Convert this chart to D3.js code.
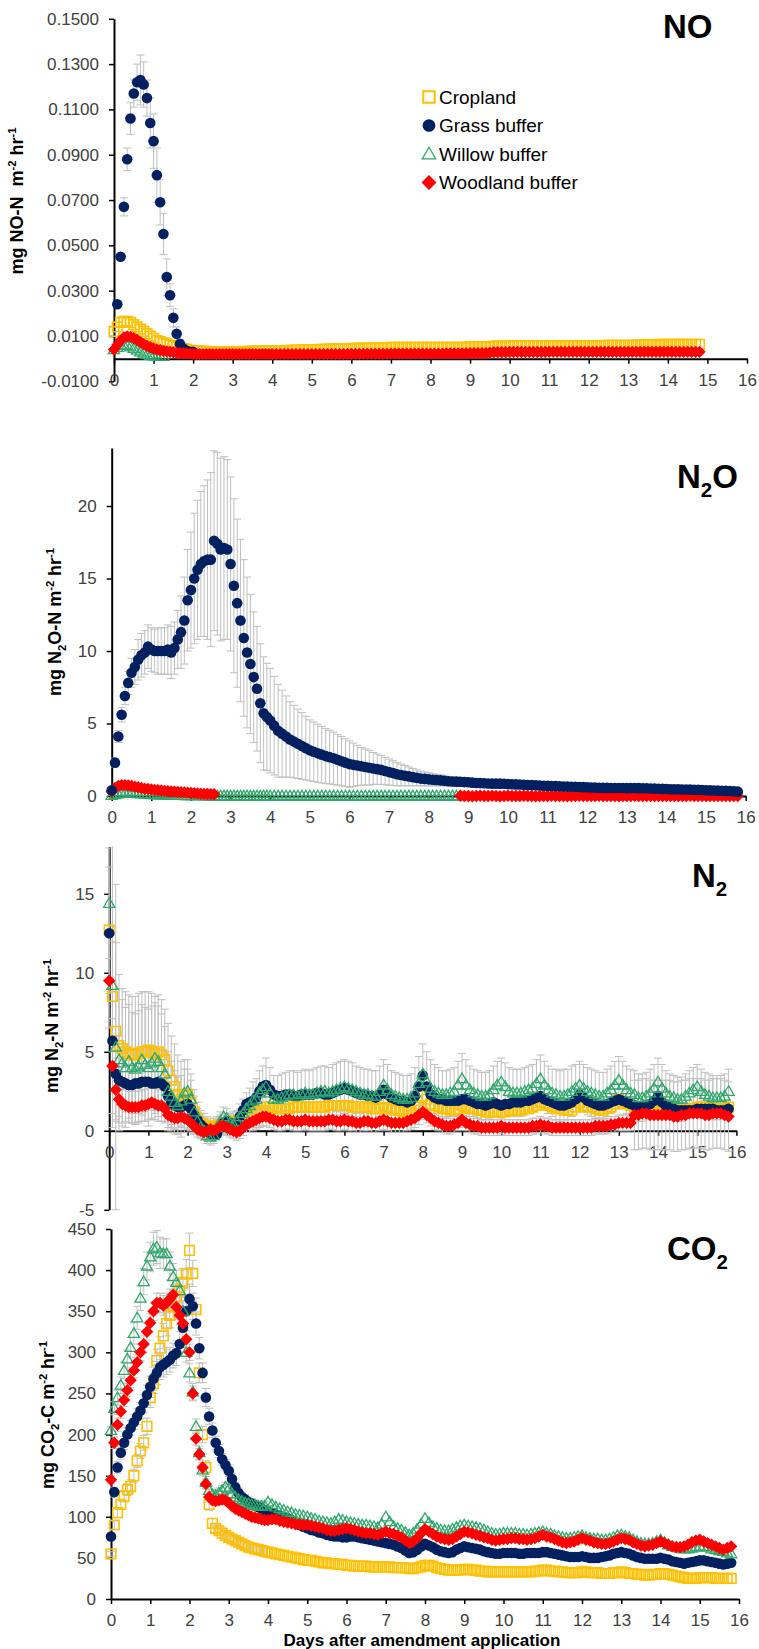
<!DOCTYPE html>
<html><head><meta charset="utf-8">
<script src="https://cdn.jsdelivr.net/npm/d3@7"></script>
<style>
body{margin:0;background:#fff}
svg{display:block}
text{font-family:"Liberation Sans",Arial,Helvetica,sans-serif;white-space:pre}
</style></head>
<body><svg id="c" width="759" height="1649"></svg>
<script>
// ---------- sampling times ----------
const hoursEarly = [0,2,4,6,8,10,12,14,16,18,20,22,24,26,28,30,32,34,36,38,40,42,44,46,48,50,52,54,56,58,60,62,64,66,68,70,72,74,76,78,80,82,84,86,88,90,92,94];
const daysLate = [4,4.1,4.2,4.3,4.4,4.5,4.6,4.7,4.8,4.9,5,5.1,5.2,5.3,5.4,5.5,5.6,5.7,5.8,5.9,6,6.1,6.2,6.3,6.4,6.5,6.6,6.7,6.8,6.9,7,7.1,7.2,7.3,7.4,7.5,7.6,7.7,7.8,7.9,8,8.1,8.2,8.3,8.4,8.5,8.6,8.7,8.8,8.9,9,9.1,9.2,9.3,9.4,9.5,9.6,9.7,9.8,9.9,10,10.1,10.2,10.3,10.4,10.5,10.6,10.7,10.8,10.9,11,11.1,11.2,11.3,11.4,11.5,11.6,11.7,11.8,11.9,12,12.1,12.2,12.3,12.4,12.5,12.6,12.7,12.8,12.9,13,13.1,13.2,13.3,13.4,13.5,13.6,13.7,13.8,13.9,14,14.1,14.2,14.3,14.4,14.5,14.6,14.7,14.8,14.9,15,15.1,15.2,15.3,15.4,15.5,15.6,15.7,15.8];
const xTicks = [0,1,2,3,4,5,6,7,8,9,10,11,12,13,14,15,16];
const seriesNames = ["Cropland","Grass buffer","Willow buffer","Woodland buffer"];

// ---------- NO ----------
const noTicks = [-0.01,0.01,0.03,0.05,0.07,0.09,0.11,0.13,0.15];
const noCropE = [0.012,0.014,0.016,0.0165,0.0165,0.016,0.015,0.014,0.013,0.012,0.011,0.010,0.009,0.008,0.0075,0.007,0.0065,0.006,0.0055,0.005,0.0047,0.0044,0.0041,0.0038,0.0036,0.0035,0.0034,0.0033,0.0032,0.0031,0.003,0.003,0.003,0.003,0.003,0.003,0.003,0.003,0.0031,0.0031,0.0032,0.0032,0.0033,0.0033,0.0034,0.0034,0.0035,0.0035];
const noCropL = [0.0035,0.0035,0.0036,0.0036,0.0037,0.0037,0.0038,0.0038,0.0039,0.0039,
 0.004,0.004,0.0041,0.0041,0.0042,0.0042,0.0043,0.0043,0.0044,0.0044,
 0.0045,0.0045,0.0046,0.0046,0.0047,0.0047,0.0048,0.0048,0.0049,0.0049,
 0.005,0.005,0.005,0.005,0.005,0.005,0.005,0.005,0.005,0.005,
 0.005,0.005,0.005,0.005,0.005,0.005,0.005,0.005,0.005,0.005,
 0.0052,0.0052,0.0052,0.0052,0.0053,0.0053,0.0055,0.0055,0.0055,0.0055,
 0.0056,0.0056,0.0056,0.0056,0.0056,0.0056,0.0057,0.0057,0.0057,0.0057,
 0.0057,0.0057,0.0057,0.0057,0.0058,0.0058,0.0058,0.0058,0.0058,0.0058,
 0.0058,0.0058,0.0058,0.0058,0.0059,0.0059,0.0059,0.0059,0.0059,0.0059,
 0.0059,0.0059,0.006,0.006,0.0062,0.0062,0.0062,0.0062,0.0063,0.0063,
 0.0063,0.0063,0.0063,0.0063,0.0063,0.0063,0.0063,0.0063,0.0063];
const noGrassE = [null,0.024,0.045,0.067,0.088,0.106,0.117,0.122,0.123,0.121,0.115,0.104,0.096,0.081,0.069,0.055,0.036,0.028,0.018,0.011,0.0065,0.0045,0.0035,0.003,0.003];
const noGrassErr = [null,0.001,0.001,0.004,0.005,0.007,0.006,0.008,0.011,0.010,0.008,0.011,0.012,0.012,0.010,0.009,0.008,0.005,0.004,0.003,0.002,0.001,0.001,0.001,0.001];
const noWillE = [0.004,0.005,0.006,0.006,0.0058,0.0052,0.0045,0.0038,0.003,0.0024,0.0018,0.0014,0.0012,0.001,0.001,0.001];
const noWoodE = [0.004,0.006,0.008,0.0093,0.0098,0.0096,0.009,0.0082,0.0073,0.0064,0.0056,0.005,0.0045,0.004,0.0037,0.0034,0.0032,0.003,0.0028,0.0026,0.0025,0.0024,0.0023,0.0022,0.0021,0.002,0.002,0.002,0.002,0.002,0.002,0.002,0.002,0.002,0.002,0.002,0.002,0.002,0.002,0.002,0.002,0.002,0.002,0.002,0.002,0.002,0.002,0.002];
const noWoodL = [0.002,0.002,0.002,0.002,0.002,0.002,0.002,0.002,0.002,0.002,
 0.002,0.002,0.002,0.002,0.002,0.002,0.002,0.002,0.002,0.002,
 0.0021,0.0021,0.0021,0.0021,0.0021,0.0021,0.0021,0.0021,0.0021,0.0021,
 0.0022,0.0022,0.0022,0.0022,0.0022,0.0022,0.0022,0.0022,0.0022,0.0022,
 0.0022,0.0022,0.0022,0.0022,0.0023,0.0023,0.0023,0.0023,0.0023,0.0023,
 0.0024,0.0024,0.0024,0.0024,0.0024,0.0026,0.0028,0.0028,0.0028,0.0028,
 0.0029,0.0029,0.0029,0.0029,0.0029,0.0029,0.0029,0.0029,0.0029,0.0029,
 0.003,0.003,0.003,0.003,0.003,0.003,0.003,0.003,0.003,0.003,
 0.003,0.003,0.003,0.003,0.003,0.003,0.003,0.003,0.003,0.003,
 0.003,0.003,0.003,0.003,0.003,0.003,0.003,0.003,0.003,0.003,
 0.003,0.003,0.003,0.003,0.003,0.003,0.003,0.003,0.003];

// ---------- N2O ----------
const n2oTicks = [0,5,10,15,20];
const n2oGrassE = [0.4,2.3,4.1,5.6,6.9,7.8,8.5,8.9,9.4,9.7,9.9,10.3,10.1,10.0,10.0,10.0,10.0,10.1,9.9,10.2,10.8,11.3,12.1,13.5,14.2,15.0,15.6,16.0,16.2,16.3,16.3,17.6,17.4,17.0,17.1,17.0,16.0,14.5,13.3,12.1,10.9,9.9,9.1,8.2,7.4,6.4,5.7,5.45];
const n2oGrassL = [5.2,4.85,4.5,4.3,4.1,3.9,3.75,3.6,3.45,3.3,
 3.15,3.05,2.95,2.85,2.75,2.68,2.6,2.5,2.4,2.3,
 2.2,2.15,2.1,2.05,2.0,1.95,1.9,1.85,1.8,1.72,
 1.65,1.58,1.5,1.45,1.4,1.35,1.3,1.25,1.2,1.18,
 1.15,1.12,1.1,1.08,1.05,1.02,1.0,0.99,0.98,0.96,
 0.95,0.92,0.9,0.89,0.88,0.86,0.85,0.85,0.85,0.84,
 0.82,0.81,0.8,0.79,0.78,0.76,0.75,0.74,0.72,0.71,
 0.7,0.69,0.68,0.67,0.66,0.65,0.64,0.63,0.62,0.61,
 0.6,0.59,0.58,0.57,0.56,0.56,0.55,0.55,0.55,0.55,
 0.54,0.55,0.55,0.54,0.53,0.53,0.52,0.51,0.5,0.49,
 0.48,0.47,0.46,0.46,0.45,0.45,0.44,0.43,0.42,0.41,
 0.4,0.39,0.38,0.37,0.36,0.35,0.34,0.32,0.3];
const n2oGrassErrE = [0.1,0.3,0.4,0.5,0.6,0.8,1.0,1.2,1.4,1.5,1.5,1.5,1.5,1.5,1.6,1.6,1.6,1.7,1.8,1.8,2.0,2.5,3.0,3.5,4.0,4.5,4.8,5.0,5.2,5.5,6.0,6.2,6.3,6.3,6.3,6.2,6.0,6.0,5.8,5.6,5.4,5.2,4.8,4.5,4.3,4.1,3.9,3.7];
const n2oGrassErrL = [3.6,3.4,3.2,3.0,2.8,2.6,2.5,2.4,2.3,2.2,
 2.1,2.05,2.0,1.95,1.9,1.85,1.8,1.75,1.7,1.65,
 1.6,1.5,1.4,1.3,1.25,1.2,1.1,1.05,1.0,0.95,
 0.9,0.85,0.8,0.75,0.7,0.65,0.6,0.55,0.5,0.48,
 0.45,0.42,0.4,0.38,0.35,0.32,0.3,0.3,0.3,0.29,
 0.28,0.27,0.26,0.26,0.25,0.25,0.24,0.23,0.22,0.21,
 0.2,0.2,0.2,0.2,0.2,0.2,0.2,0.2,0.2,0.2,
 0.2,0.19,0.18,0.18,0.18,0.17,0.17,0.16,0.16,0.15,
 0.15,0.15,0.15,0.15,0.15,0.15,0.15,0.15,0.15,0.15,
 0.14,0.14,0.14,0.14,0.13,0.13,0.13,0.13,0.12,0.12,
 0.12,0.12,0.12,0.12,0.11,0.11,0.11,0.11,0.1,0.1,
 0.1,0.1,0.1,0.1,0.1,0.1,0.1,0.1,0.1];
const n2oWillE = [0.05,0.1,0.15,0.2,0.2,0.2,0.2,0.18,0.16,0.15,0.14,0.12,0.1,0.1,0.08,0.08,0.06,0.06,0.05,0.05,0.04,0.04,0.03,0.03,0.02,0.02,0.02,0.02,0.01,0.01,0,0,0,0,0,0,0,0,0,0,0,0,0,0,0,0,0,0];
const n2oWillL = [0,0,0,0,0,0,0,0,0,0, 0,0,0,0,0,0,0,0,0,0, 0,0,0,0,0,0,0,0,0,0, 0,0,0,0,0,0,0,0,0,0, 0,0,0,0,0,0,0,0];
const n2oWoodE = [0.3,0.55,0.7,0.75,0.75,0.72,0.7,0.65,0.6,0.55,0.5,0.48,0.45,0.42,0.4,0.38,0.35,0.33,0.31,0.3,0.28,0.26,0.25,0.23,0.21,0.2,0.18,0.16,0.15,0.14,0.13,0.12,null,null,null,null,null,null,null,null,null,null,null,null,null,null,null,null];
const n2oWoodL = [null,null,null,null,null,null,null,null,null,null,
 null,null,null,null,null,null,null,null,null,null,
 null,null,null,null,null,null,null,null,null,null,
 null,null,null,null,null,null,null,null,null,null,
 null,null,null,null,null,null,null,null,0.02,0,
 0,-0.02,0,0.02,0,0,0.02,0,-0.02,0,
 0.02,0,0,0,0.02,0,0,-0.02,0,0,
 0,0.02,0,0,0,-0.02,0,0,0.02,0,
 0,0,0,0.02,0,0,0,0,-0.02,0,
 0,0,0.02,0,0,0,0,0,0,0,
 0,0,0,0,0,0,0.02,0,0,0,
 0,0,0,0,0,0,0,0,0];

// ---------- N2 ----------
const n2Ticks = [-5,0,5,10,15];
const n2CropE = [12.7,8.5,6.3,5.4,5.2,5.0,4.9,4.8,4.8,4.9,5.0,5.0,5.1,5.0,4.9,5.0,4.8,4.5,3.8,3.2,2.8,2.3,2.0,2.2,2.3,1.8,1.2,0.8,0.5,0.4,0.3,0.2,0.2,0.3,0.4,0.4,0.5,0.5,0.6,0.6,0.7,0.8,0.9,1.0,1.1,1.2,1.2,1.3];
const n2CropL = [1.5,1.5,1.5,1.4,1.4,1.4,1.4,1.5,1.5,1.5,
 1.5,1.5,1.5,1.5,1.5,1.5,1.6,1.6,1.6,1.6,
 1.6,1.6,1.5,1.5,1.5,1.5,1.5,1.4,1.4,1.4,
 1.5,1.4,1.4,1.3,1.3,1.2,1.2,1.2,1.3,1.5,
 2.2,2.0,1.7,1.6,1.5,1.4,1.4,1.3,1.3,1.4,
 1.6,1.5,1.4,1.4,1.3,1.3,1.2,1.2,1.2,1.2,
 1.2,1.2,1.3,1.3,1.3,1.3,1.4,1.4,1.5,1.6,
 1.8,1.7,1.6,1.5,1.4,1.4,1.3,1.3,1.3,1.5,
 1.8,1.6,1.5,1.5,1.4,1.3,1.3,1.4,1.5,1.7,
 2.0,1.8,1.7,1.6,1.5,1.5,1.5,1.5,1.6,1.7,
 1.8,1.7,1.6,1.5,1.5,1.4,1.4,1.4,1.4,1.4,
 1.5,1.5,1.5,1.5,1.4,1.4,1.4,1.4,1.5];
const n2CropErrE = [4.0,3.5,5.6,4.5,3.8,3.8,3.7,3.7,3.7,3.8,3.8,3.8,3.7,3.7,3.6,3.6,3.5,3.2,3.0,2.8,2.7,2.5,2.4,2.3,2.2,1.8,1.4,1.0,0.8,0.7,0.6,0.6,0.6,0.6,0.6,0.6,0.6,0.6,0.6,0.6,0.7,0.7,0.8,0.8,0.9,0.9,1.0,1.0];
const n2GrassE = [12.5,5.7,3.6,3.2,3.1,3.0,2.9,2.9,3.0,3.0,3.1,3.1,3.1,3.0,3.0,3.1,3.0,2.8,2.2,1.8,1.6,1.5,1.5,1.6,1.7,1.4,1.0,0.7,0.4,0.2,0.0,-0.2,-0.3,-0.2,0.2,0.5,0.6,0.5,0.4,0.5,0.9,1.3,1.7,1.8,1.9,2.1,2.5,2.8];
const n2GrassL = [2.9,2.6,2.3,2.2,2.2,2.3,2.3,2.2,2.2,2.3,
 2.3,2.3,2.3,2.4,2.4,2.3,2.3,2.4,2.5,2.6,
 2.7,2.6,2.5,2.4,2.3,2.3,2.2,2.2,2.1,2.3,
 2.6,2.3,2.1,2.0,1.9,1.9,1.8,1.9,2.2,2.8,
 3.5,2.8,2.3,2.1,2.0,2.0,1.9,1.9,1.9,1.9,
 2.0,2.0,1.9,1.8,1.7,1.7,1.6,1.7,1.8,1.7,
 1.6,1.7,1.7,1.8,1.8,1.8,1.9,1.9,2.0,2.1,
 2.2,2.0,1.9,1.8,1.7,1.6,1.6,1.7,1.8,2.0,
 2.3,2.1,1.9,1.8,1.7,1.6,1.6,1.7,1.8,1.9,
 2.0,1.9,1.8,1.7,1.6,1.5,1.5,1.6,1.7,1.9,
 2.2,1.8,1.6,1.5,1.4,1.3,1.3,1.3,1.3,1.3,
 1.4,1.4,1.4,1.4,1.4,1.3,1.3,1.3,1.4];
const n2WillE = [14.4,9.2,5.3,4.5,4.3,4.0,4.4,4.0,3.9,4.1,4.5,4.2,4.0,4.3,4.6,4.4,4.0,3.6,2.5,2.2,1.8,1.6,1.9,2.4,2.5,2.0,1.2,0.6,0.2,0.0,-0.3,-0.4,-0.3,0.2,0.6,0.9,0.8,0.5,0.4,0.6,0.9,1.1,1.4,1.6,1.9,2.0,2.4,2.6];
const n2WillL = [2.8,2.4,2.0,2.0,2.1,2.2,2.3,2.3,2.2,2.3,
 2.4,2.3,2.3,2.4,2.5,2.5,2.4,2.5,2.6,2.7,
 2.8,2.7,2.6,2.5,2.4,2.3,2.3,2.2,2.2,2.5,
 2.9,2.6,2.3,2.2,2.1,2.0,2.0,2.1,2.4,3.0,
 3.6,3.1,2.7,2.5,2.4,2.3,2.3,2.4,2.5,2.9,
 3.3,2.9,2.6,2.4,2.3,2.2,2.2,2.3,2.6,2.9,
 3.1,2.8,2.5,2.4,2.4,2.4,2.5,2.6,2.7,3.0,
 3.3,2.9,2.6,2.4,2.3,2.2,2.2,2.3,2.5,2.7,
 2.9,2.7,2.5,2.4,2.3,2.2,2.2,2.4,2.6,2.9,
 3.2,2.9,2.6,2.4,2.3,2.1,2.1,2.2,2.4,2.7,
 3.1,2.7,2.4,2.2,2.1,2.0,2.0,2.2,2.4,2.6,
 2.8,2.5,2.3,2.2,2.1,2.1,2.1,2.2,2.5];
const n2WillErrE = [3.5,9.0,10.3,4.5,4.0,3.8,3.6,3.5,3.5,3.5,3.5,3.6,3.7,3.6,3.5,3.5,3.4,3.0,2.5,2.2,2.0,1.8,1.6,1.5,1.4,1.2,1.0,0.8,0.6,0.5,0.5,0.5,0.5,0.5,0.6,0.6,0.6,0.6,0.6,0.7,0.8,0.9,1.0,1.1,1.2,1.3,1.4,1.5];
const n2WillErrL = [1.8,1.6,1.5,1.5,1.5,1.5,1.5,1.5,1.5,1.5,
 1.5,1.5,1.6,1.6,1.6,1.6,1.6,1.7,1.7,1.7,
 1.7,1.7,1.7,1.6,1.6,1.6,1.6,1.6,1.6,1.6,
 1.6,1.6,1.5,1.5,1.5,1.5,1.5,1.5,1.6,1.7,
 1.9,1.9,1.8,1.7,1.6,1.5,1.5,1.5,1.5,1.5,
 1.6,1.6,1.5,1.5,1.5,1.5,1.5,1.5,1.5,1.5,
 1.5,1.5,1.5,1.5,1.5,1.5,1.5,1.5,1.5,1.5,
 1.5,1.5,1.5,1.5,1.6,1.6,1.7,1.6,1.6,1.5,
 1.5,1.5,1.5,1.5,1.5,1.5,1.5,1.5,1.5,1.5,
 1.5,1.5,1.5,1.5,1.5,1.5,1.5,1.5,1.5,1.5,
 1.5,1.5,1.4,1.4,1.4,1.4,1.4,1.4,1.4,1.4,
 1.4,1.4,1.4,1.4,1.4,1.4,1.4,1.4,1.4];
const n2WoodE = [9.5,4.1,2.6,2.0,1.7,1.6,1.5,1.5,1.5,1.5,1.6,1.6,1.7,1.8,1.7,1.6,1.6,1.4,1.0,0.9,0.8,0.8,0.9,0.8,0.7,0.5,0.3,0.1,0.0,-0.1,0.0,0.1,0.0,0.1,0.3,0.3,0.2,0.1,0.0,-0.1,0.0,0.2,0.4,0.5,0.6,0.7,0.8,0.9];
const n2WoodL = [0.9,0.8,0.7,0.6,0.6,0.7,0.7,0.6,0.6,0.6,
 0.7,0.6,0.6,0.6,0.6,0.6,0.7,0.7,0.6,0.6,
 0.7,0.6,0.6,0.5,0.5,0.6,0.6,0.5,0.5,0.6,
 0.7,0.6,0.5,0.5,0.5,0.5,0.6,0.7,0.8,1.0,
 1.2,1.0,0.8,0.6,0.5,0.4,0.3,0.3,0.4,0.5,
 0.7,0.5,0.4,0.3,0.3,0.2,0.2,0.2,0.2,0.2,
 0.3,0.2,0.2,0.2,0.2,0.2,0.2,0.2,0.3,0.3,
 0.4,0.3,0.3,0.2,0.2,0.2,0.2,0.2,0.2,0.2,
 0.2,0.2,0.2,0.2,0.3,0.3,0.3,0.3,0.4,0.4,
 0.5,0.5,0.5,0.5,1.0,1.0,1.1,1.1,1.0,1.0,
 1.0,1.0,1.0,1.0,0.9,0.9,1.0,1.0,1.1,1.1,
 1.1,1.1,1.0,1.0,1.1,1.1,1.1,1.0,0.9];
const n2WoodErrE = [3.0,3.0,2.0,1.5,1.2,1.0,1.0,1.0,1.0,1.0,1.0,1.0,1.0,1.0,1.0,1.0,1.0,0.9,0.8,0.7,0.7,0.6,0.6,0.6,0.6,0.5,0.5,0.5,0.5,0.5,0.5,0.5,0.5,0.5,0.5,0.5,0.5,0.5,0.5,0.5,0.5,0.5,0.5,0.6,0.6,0.6,0.6,0.6];
const n2WoodErrL = [0.6,0.6,0.6,0.6,0.6,0.6,0.6,0.6,0.6,0.6,
 0.6,0.6,0.6,0.6,0.6,0.6,0.6,0.6,0.6,0.6,
 0.6,0.6,0.6,0.6,0.6,0.6,0.6,0.6,0.6,0.6,
 0.6,0.6,0.6,0.6,0.6,0.6,0.6,0.6,0.6,0.6,
 0.5,0.5,0.5,0.5,0.5,0.5,0.5,0.5,0.5,0.5,
 0.5,0.5,0.5,0.5,0.5,0.5,0.5,0.5,0.5,0.5,
 0.5,0.5,0.5,0.5,0.5,0.5,0.5,0.5,0.5,0.5,
 0.5,0.5,0.5,0.5,0.5,0.5,0.5,0.5,0.5,0.5,
 0.5,0.5,0.5,0.5,0.5,0.5,0.5,0.5,0.5,0.5,
 0.5,0.5,0.5,0.5,2.2,2.2,2.2,2.2,2.2,2.2,
 2.2,2.2,2.2,2.2,2.2,2.2,2.2,2.2,2.2,2.2,
 2.2,2.2,2.2,2.2,2.2,2.2,2.2,2.2,2.2];

// ---------- CO2 ----------
const co2Ticks = [0,50,100,150,200,250,300,350,400,450];
const co2CropE = [55,90,105,115,125,133,137,150,168,180,190,210,245,262,290,305,320,335,345,355,368,375,385,395,424,396,352,275,200,160,115,92,86,83,80,77,75,73,71,69,67,65,63,62,61,60,59,58];
const co2CropL = [57,56,55,54,53,52,51,50,49,48,
 47,47,46,45,44,44,43,43,42,42,
 41,41,40,40,40,40,39,39,39,39,
 39,39,38,38,38,38,37,37,38,39,
 41,41,40,38,37,36,35,35,35,35,
 36,36,35,35,34,34,33,33,33,33,
 33,33,33,33,33,33,33,33,34,34,
 35,35,34,34,33,33,32,32,32,32,
 33,33,32,32,32,31,31,31,32,32,
 33,32,31,31,30,30,29,29,30,30,
 31,31,30,29,28,27,26,25,25,25,
 26,26,26,26,25,25,25,25,25];
const co2CropErrE = [3,5,6,6,7,7,8,8,8,9,9,10,12,12,14,14,15,15,15,15,16,16,17,18,21,16,14,12,10,8,7,6,5,5,5,5,5,5,5,5,5,5,5,5,5,5,5,5];
const co2GrassE = [76,130,160,178,190,200,208,215,222,229,238,248,258,268,275,282,285,288,291,296,299,310,330,350,365,356,335,305,275,245,222,205,190,180,170,163,156,146,136,129,124,121,118,116,114,112,110,108];
const co2GrassL = [106,104,103,101,100,98,96,93,90,88,
 86,84,83,81,80,78,77,76,76,75,
 75,76,76,75,74,73,72,71,70,69,
 68,67,66,64,62,59,56,57,60,64,
 67,65,63,60,58,57,56,57,60,62,
 64,63,62,61,60,58,57,56,55,55,
 56,56,56,56,55,55,56,56,56,56,
 57,57,56,55,54,53,52,51,51,51,
 52,51,50,50,50,51,52,53,55,56,
 57,56,55,53,51,50,49,49,49,49,
 50,49,48,46,45,44,43,44,45,46,
 47,47,46,45,44,43,42,43,44];
const co2GrassErrE = [4,6,7,8,8,8,9,9,10,10,11,12,13,14,14,15,15,15,15,15,15,15,16,17,18,16,14,13,12,11,10,9,8,8,7,7,7,7,6,6,6,6,6,6,6,6,6,6];
const co2WillE = [205,232,245,260,278,292,306,323,342,366,386,405,416,426,428,421,420,420,405,392,385,375,350,300,275,252,210,178,157,142,132,127,126,129,132,136,134,128,124,121,119,117,116,115,114,113,113,113];
const co2WillL = [118,115,112,110,108,106,105,103,102,101,
 100,98,97,95,94,93,92,94,97,96,
 94,93,92,91,90,90,89,88,87,91,
 100,94,88,86,84,81,78,80,85,91,
 98,93,88,86,84,83,83,85,87,89,
 90,89,88,87,86,84,82,80,79,79,
 80,80,80,80,79,79,78,79,80,81,
 82,80,79,77,76,75,74,74,75,76,
 77,75,74,73,73,72,72,73,75,77,
 78,76,75,72,70,68,67,67,68,70,
 72,69,66,64,63,62,61,61,62,63,
 64,64,63,61,60,59,58,56,55];
const co2WillErrE = [5,8,9,10,10,11,12,13,14,15,16,17,18,20,20,19,18,18,17,16,15,14,13,12,11,10,9,8,7,7,6,6,6,6,6,6,6,6,6,6,6,6,6,6,6,6,6,6];
const co2WoodE = [145,190,212,228,242,254,266,278,288,300,310,325,336,350,360,360,357,360,365,370,355,345,335,316,300,250,195,176,160,140,124,120,119,120,121,120,117,113,110,108,106,104,102,100,99,98,97,96];
const co2WoodL = [96,97,97,95,94,93,92,91,91,90,
 90,89,88,87,86,84,83,83,84,85,
 86,85,84,82,81,80,80,79,78,80,
 82,80,79,77,75,71,68,70,74,80,
 85,82,79,76,74,73,72,73,76,79,
 82,81,80,78,77,75,74,72,71,72,
 73,73,74,74,73,73,72,73,74,76,
 78,76,75,73,71,69,68,69,70,72,
 74,72,71,69,68,67,67,68,70,72,
 74,73,72,69,67,65,64,65,66,68,
 70,68,66,64,63,63,64,66,69,71,
 72,70,68,66,64,62,60,62,64];
const co2WoodErrE = [5,7,8,8,8,8,9,9,9,10,10,10,11,11,12,12,12,12,12,12,11,11,10,10,10,9,8,7,6,6,6,5,5,5,5,5,5,5,5,5,5,5,5,5,5,5,5,5];

// ---------- drawing ----------
const days = hoursEarly.map(h => h / 24).concat(daysLate);
const COL = {crop:"#FFC000", grass:"#002060", will:"#2EA86B", wood:"#FF0000"};
const svg = d3.select("#c");

function markerPath(type, k) {
  k = k || 1;
  if (type === "crop") { const h = 4.8*k; return `M${-h},${-h}H${h}V${h}H${-h}Z`; }
  if (type === "grass") { const r = 5.3*k; return `M${r},0A${r},${r} 0 1 1 ${-r},0A${r},${r} 0 1 1 ${r},0Z`; }
  if (type === "will") { const w = 5.6*k, t = 5.6*k, b = 4.0*k; return `M0,${-t}L${w},${b}L${-w},${b}Z`; }
  const h = 6.2*k; return `M0,${-h}L${h},0L0,${h}L${-h},0Z`;
}
function styleMarker(sel, type) {
  if (type === "crop") sel.attr("fill","none").attr("stroke",COL.crop).attr("stroke-width",1.6);
  else if (type === "will") sel.attr("fill","none").attr("stroke",COL.will).attr("stroke-width",1.3);
  else sel.attr("fill",COL[type]).attr("stroke","none");
}

function richText(sel, parts, size) {
  let shift = 0;
  parts.forEach(([t, s]) => {
    const target = s === 1 ? -size*0.4 : (s === -1 ? size*0.28 : 0);
    const ts = sel.append("tspan").text(t).attr("dy", target - shift);
    if (s !== 0) ts.attr("font-size", size*0.62);
    shift = target;
  });
}

const panels = [
  { x0:114, x1:747, yB:381.3, yT:18.8, dom:[-0.01,0.15], ticks:noTicks, fmt:d => d.toFixed(4),
    series:[
      {type:"crop", vals:noCropE.concat(noCropL)},
      {type:"grass", vals:noGrassE, err:noGrassErr},
      {type:"will", vals:noWillE},
      {type:"wood", vals:noWoodE.concat(noWoodL)}],
    title:[["NO",0]], tx:663, ty:38,
    ylab:[["mg NO-N  m",0],["-2",1],[" hr",0],["-1",1]], lx:23, ly:201 },
  { x0:111.7, x1:745.7, yB:796, yT:448, dom:[0,24], ticks:n2oTicks, fmt:d => d,
    series:[
      {type:"will", vals:n2oWillE.concat(n2oWillL)},
      {type:"wood", vals:n2oWoodE.concat(n2oWoodL)},
      {type:"grass", vals:n2oGrassE.concat(n2oGrassL), err:n2oGrassErrE.concat(n2oGrassErrL)}],
    title:[["N",0],["2",-1],["O",0]], tx:677, ty:488,
    ylab:[["mg N",0],["2",-1],["O-N m",0],["-2",1],[" hr",0],["-1",1]], lx:61, ly:622 },
  { x0:109.2, x1:736.4, yB:1209.8, yT:846.4, dom:[-5,18], ticks:n2Ticks, fmt:d => d,
    series:[
      {type:"crop", vals:n2CropE.concat(n2CropL), err:n2CropErrE},
      {type:"grass", vals:n2GrassE.concat(n2GrassL)},
      {type:"will", vals:n2WillE.concat(n2WillL), err:n2WillErrE.concat(n2WillErrL)},
      {type:"wood", vals:n2WoodE.concat(n2WoodL), err:n2WoodErrE.concat(n2WoodErrL)}],
    title:[["N",0],["2",-1]], tx:692, ty:887,
    ylab:[["mg N",0],["2",-1],["-N m",0],["-2",1],[" hr",0],["-1",1]], lx:58, ly:1026 },
  { x0:111, x1:739, yB:1599, yT:1229, dom:[0,450], ticks:co2Ticks, fmt:d => d,
    series:[
      {type:"crop", vals:co2CropE.concat(co2CropL), err:co2CropErrE},
      {type:"grass", vals:co2GrassE.concat(co2GrassL), err:co2GrassErrE},
      {type:"will", vals:co2WillE.concat(co2WillL), err:co2WillErrE},
      {type:"wood", vals:co2WoodE.concat(co2WoodL), err:co2WoodErrE}],
    title:[["CO",0],["2",-1]], tx:667, ty:1260,
    ylab:[["mg CO",0],["2",-1],["-C m",0],["-2",1],[" hr",0],["-1",1]], lx:54, ly:1415 }
];

panels.forEach(p => {
  const x = d3.scaleLinear().domain([0,16]).range([p.x0, p.x1]);
  const y = d3.scaleLinear().domain(p.dom).range([p.yB, p.yT]);
  const g = svg.append("g");

  const ya = g.append("g").attr("transform",`translate(${p.x0},0)`)
    .call(d3.axisLeft(y).tickValues(p.ticks).tickFormat(p.fmt).tickSize(5).tickSizeOuter(0).tickPadding(10));
  const xa = g.append("g").attr("transform",`translate(0,${y(0)})`)
    .call(d3.axisBottom(x).tickValues(xTicks).tickFormat(d => d).tickSize(5).tickSizeOuter(0).tickPadding(10));
  [ya, xa].forEach(a => {
    a.select(".domain").attr("stroke","#000").attr("stroke-width",2);
    a.selectAll(".tick line").attr("stroke","#000").attr("stroke-width",1.5);
    a.selectAll(".tick text").attr("fill","#404040").attr("font-size",17)
      .attr("font-family",'"Liberation Sans",Arial,sans-serif');
  });

  const eg = g.append("g").attr("stroke","#BFBFBF").attr("stroke-width",1).attr("fill","none");
  p.series.forEach(s => {
    if (!s.err) return;
    s.err.forEach((e, i) => {
      const v = s.vals[i];
      if (e == null || v == null) return;
      const cx = x(days[i]);
      const yt = y(v + e), yb = y(v - e);
      const t = Math.max(yt, p.yT), b = Math.min(yb, p.yB);
      eg.append("line").attr("x1",cx).attr("x2",cx).attr("y1",t).attr("y2",b);
      if (yt >= p.yT) eg.append("line").attr("x1",cx-4).attr("x2",cx+4).attr("y1",yt).attr("y2",yt);
      if (yb <= p.yB) eg.append("line").attr("x1",cx-4).attr("x2",cx+4).attr("y1",yb).attr("y2",yb);
    });
  });

  p.series.forEach(s => {
    const pts = s.vals.map((v, i) => ({d: days[i], v})).filter(o => o.v != null);
    const sel = g.append("g").selectAll("path").data(pts).join("path")
      .attr("d", markerPath(s.type))
      .attr("transform", o => `translate(${x(o.d)},${y(o.v)})`);
    styleMarker(sel, s.type);
  });

  const tt = g.append("text").attr("x",p.tx).attr("y",p.ty).attr("font-size",33)
    .attr("font-weight","bold").attr("fill","#000");
  richText(tt, p.title, 33);

  const yl = g.append("text").attr("transform",`translate(${p.lx},${p.ly}) rotate(-90)`)
    .attr("text-anchor","middle").attr("font-size",18).attr("font-weight","bold").attr("fill","#000");
  yl.append("tspan").attr("dy","0.35em");
  richText(yl, p.ylab, 18);
});

const types = ["crop","grass","will","wood"];
const lg = svg.append("g");
seriesNames.forEach((n, i) => {
  const yy = 97 + i*28.5;
  const m = lg.append("path").attr("d", markerPath(types[i], 1.2)).attr("transform",`translate(429,${yy})`);
  styleMarker(m, types[i]);
  if (types[i] === "crop") m.attr("stroke-width",2);
  lg.append("text").attr("x",439).attr("y",yy+6.8).attr("font-size",19).attr("fill","#000").text(n);
});

svg.append("text").attr("x",422).attr("y",1646).attr("text-anchor","middle")
  .attr("font-size",17).attr("font-weight","bold").attr("fill","#000")
  .text("Days after amendment application");
</script>
</body></html>
